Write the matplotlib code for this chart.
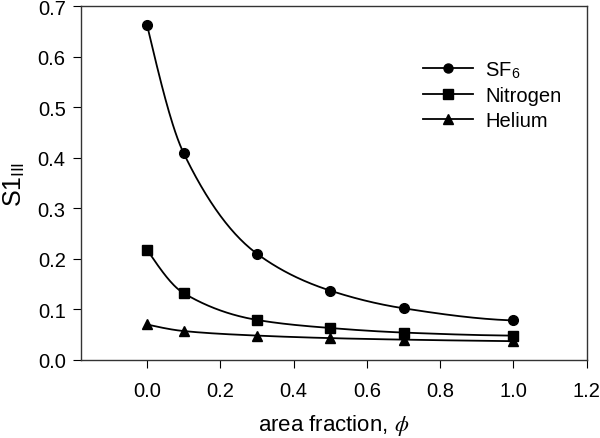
import numpy as np
import matplotlib
matplotlib.use("Agg")
import matplotlib.pyplot as plt

plt.rcParams['font.family'] = ['Liberation Sans', 'DejaVu Sans']
plt.rcParams['mathtext.fontset'] = 'stix'

# data
phi = [0.0, 0.1, 0.3, 0.5, 0.7, 1.0]
sf6 = [0.663, 0.409, 0.210, 0.137, 0.102, 0.078]
nitrogen = [0.218, 0.132, 0.079, 0.063, 0.054, 0.048]
helium = [0.070, 0.057, 0.048, 0.043, 0.040, 0.037]


def pchip(x, y, xs):
    # monotone cubic curve through the data points (drawing only)
    x = np.asarray(x, float)
    y = np.asarray(y, float)
    h = np.diff(x)
    d = np.diff(y) / h
    m = np.zeros_like(y)
    for k in range(1, len(x) - 1):
        if d[k - 1] * d[k] > 0:
            w1 = 2 * h[k] + h[k - 1]
            w2 = h[k] + 2 * h[k - 1]
            m[k] = (w1 + w2) / (w1 / d[k - 1] + w2 / d[k])
    m[0] = ((2 * h[0] + h[1]) * d[0] - h[0] * d[1]) / (h[0] + h[1])
    if np.sign(m[0]) != np.sign(d[0]):
        m[0] = 0
    m[-1] = ((2 * h[-1] + h[-2]) * d[-1] - h[-1] * d[-2]) / (h[-1] + h[-2])
    if np.sign(m[-1]) != np.sign(d[-1]):
        m[-1] = 0
    idx = np.clip(np.searchsorted(x, xs) - 1, 0, len(x) - 2)
    t = (xs - x[idx]) / h[idx]
    h00 = 2 * t**3 - 3 * t**2 + 1
    h10 = t**3 - 2 * t**2 + t
    h01 = -2 * t**3 + 3 * t**2
    h11 = t**3 - t**2
    return h00 * y[idx] + h10 * h[idx] * m[idx] + h01 * y[idx + 1] + h11 * h[idx] * m[idx + 1]


fig = plt.figure(figsize=(6, 4.39), dpi=100)
ax = fig.add_axes([0.135, 0.178, 0.843, 0.806])

xs = np.linspace(phi[0], phi[-1], 300)
series = [(sf6, 'o', 'SF$_\\mathregular{6}$'),
          (nitrogen, 's', 'Nitrogen'),
          (helium, '^', 'Helium')]
for vals, mk, lab in series:
    ax.plot(xs, pchip(phi, vals, xs), color='black', lw=1.3)
    ax.plot(phi, vals, marker=mk, color='black', ls='none', ms=7)
    ax.plot([], [], color='black', lw=1.3, marker=mk, ms=6.5, label=lab)

ax.set_xlim(-0.18, 1.2)
ax.set_ylim(0, 0.7)
ax.set_xticks([0.0, 0.2, 0.4, 0.6, 0.8, 1.0, 1.2])
ax.set_yticks(np.arange(0, 0.71, 0.1))
ax.xaxis.set_major_formatter(matplotlib.ticker.FormatStrFormatter('%.1f'))
ax.yaxis.set_major_formatter(matplotlib.ticker.FormatStrFormatter('%.1f'))
ax.tick_params(direction='out', length=6, labelsize=14.5, top=False, right=False)
ax.tick_params(axis='x', pad=9)
ax.tick_params(axis='y', pad=5)
for s in ax.spines.values():
    s.set_linewidth(1.0)
    s.set_color('#333333')

ax.set_xlabel('area fraction, $\\phi$', fontsize=16, labelpad=9)
ax.set_ylabel('S1$_\\mathregular{III}$', fontsize=18, labelpad=8)

ax.legend(loc='upper left', bbox_to_anchor=(0.64, 0.9), frameon=False,
          fontsize=14.5, handlelength=2.5, handletextpad=0.6, labelspacing=0.3)

fig.savefig('out.png', dpi=100)
